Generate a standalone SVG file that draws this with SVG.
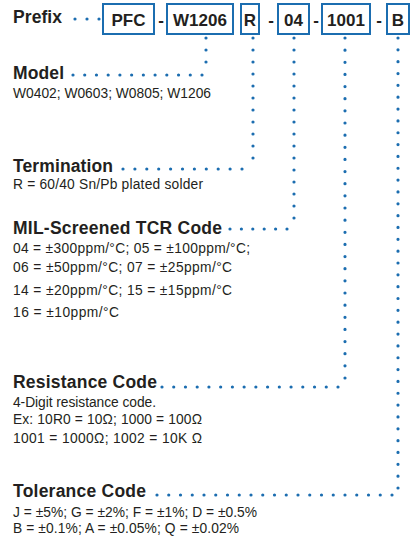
<svg xmlns="http://www.w3.org/2000/svg" width="412" height="536" viewBox="0 0 412 536">
<style>
.box{fill:#fff;stroke:#1b6db0;stroke-width:2}
.bt{font-family:"Liberation Sans",Arial,sans-serif;font-weight:bold;font-size:17px;fill:#231f20;text-anchor:middle}
.h{font-family:"Liberation Sans",Arial,sans-serif;font-weight:bold;font-size:17.5px;fill:#231f20}
.p{font-family:"Liberation Sans",Arial,sans-serif;font-size:13.8px;fill:#231f20}
.dot{fill:none;stroke:#1b6db0;stroke-width:3.2;stroke-linecap:round}
</style>
<g id="connectors">
<path class="dot" stroke-dasharray="0 12" d="M75 19 L99.1 19"/>
<path class="dot" stroke-dasharray="0 12" d="M206 38 L206 62.1"/>
<path class="dot" stroke-dasharray="0 11.727" d="M73 75 L202.1 75"/>
<path class="dot" stroke-dasharray="0 12" d="M253 38 L253 158.1"/>
<path class="dot" stroke-dasharray="0 11.9" d="M123 169 L242.1 169"/>
<path class="dot" stroke-dasharray="0 12" d="M294 38 L294 218.1"/>
<path class="dot" stroke-dasharray="0 11.4" d="M230 229 L287.1 229"/>
<path class="dot" stroke-dasharray="0 12.143" d="M345 38 L345 378.1"/>
<path class="dot" stroke-dasharray="0 11.733" d="M162 387 L338.1 387"/>
<path class="dot" stroke-dasharray="0 11.842" d="M398 38 L398 488.1"/>
<path class="dot" stroke-dasharray="0 11.75" d="M157 495 L392.1 495"/>
</g>
<g id="prefix"><text class="h" x="13" y="23" font-size="16" textLength="49">Prefix</text></g>
<g id="code">
<rect class="box" x="103" y="4" width="51" height="30"/><text class="bt" x="128.5" y="26">PFC</text>
<text class="bt" x="161" y="26">-</text>
<rect class="box" x="167" y="4" width="66" height="30"/><text class="bt" x="200" y="26">W1206</text>
<rect class="box" x="241" y="4" width="18" height="30"/><text class="bt" x="250" y="26">R</text>
<text class="bt" x="271" y="26">-</text>
<rect class="box" x="278" y="4" width="31" height="30"/><text class="bt" x="293.5" y="26">04</text>
<text class="bt" x="316" y="26">-</text>
<rect class="box" x="322" y="4" width="48" height="30"/><text class="bt" x="346" y="26">1001</text>
<text class="bt" x="379" y="26">-</text>
<rect class="box" x="387" y="4" width="22" height="30"/><text class="bt" x="398" y="26">B</text>
</g>
<g id="model"><text class="h" x="13" y="79" textLength="51">Model</text><text class="p" x="13" y="98" textLength="198">W0402; W0603; W0805; W1206</text></g>
<g id="termination"><text class="h" x="13" y="172" textLength="100">Termination</text><text class="p" x="13" y="189" textLength="190">R = 60/40 Sn/Pb plated solder</text></g>
<g id="tcr"><text class="h" x="13" y="234" textLength="209">MIL-Screened TCR Code</text>
<text class="p" x="13" y="253" textLength="237">04 = ±300ppm/°C; 05 = ±100ppm/°C;</text>
<text class="p" x="13" y="272" textLength="219">06 = ±50ppm/°C; 07 = ±25ppm/°C</text>
<text class="p" x="13" y="295" textLength="219">14 = ±20ppm/°C; 15 = ±15ppm/°C</text>
<text class="p" x="13" y="317" textLength="106">16 = ±10ppm/°C</text></g>
<g id="resistance"><text class="h" x="13" y="388" textLength="144">Resistance Code</text>
<text class="p" x="13" y="407" textLength="143">4-Digit resistance code.</text>
<text class="p" x="13" y="424" textLength="189">Ex: 10R0 = 10Ω; 1000 = 100Ω</text>
<text class="p" x="13" y="443" textLength="189">1001 = 1000Ω;  1002 = 10K Ω</text></g>
<g id="tolerance"><text class="h" x="13" y="497" textLength="133">Tolerance Code</text>
<text class="p" x="13" y="517" textLength="244">J = ±5%; G = ±2%; F = ±1%; D = ±0.5%</text>
<text class="p" x="13" y="533" textLength="226">B = ±0.1%; A = ±0.05%; Q = ±0.02%</text></g>
</svg>
